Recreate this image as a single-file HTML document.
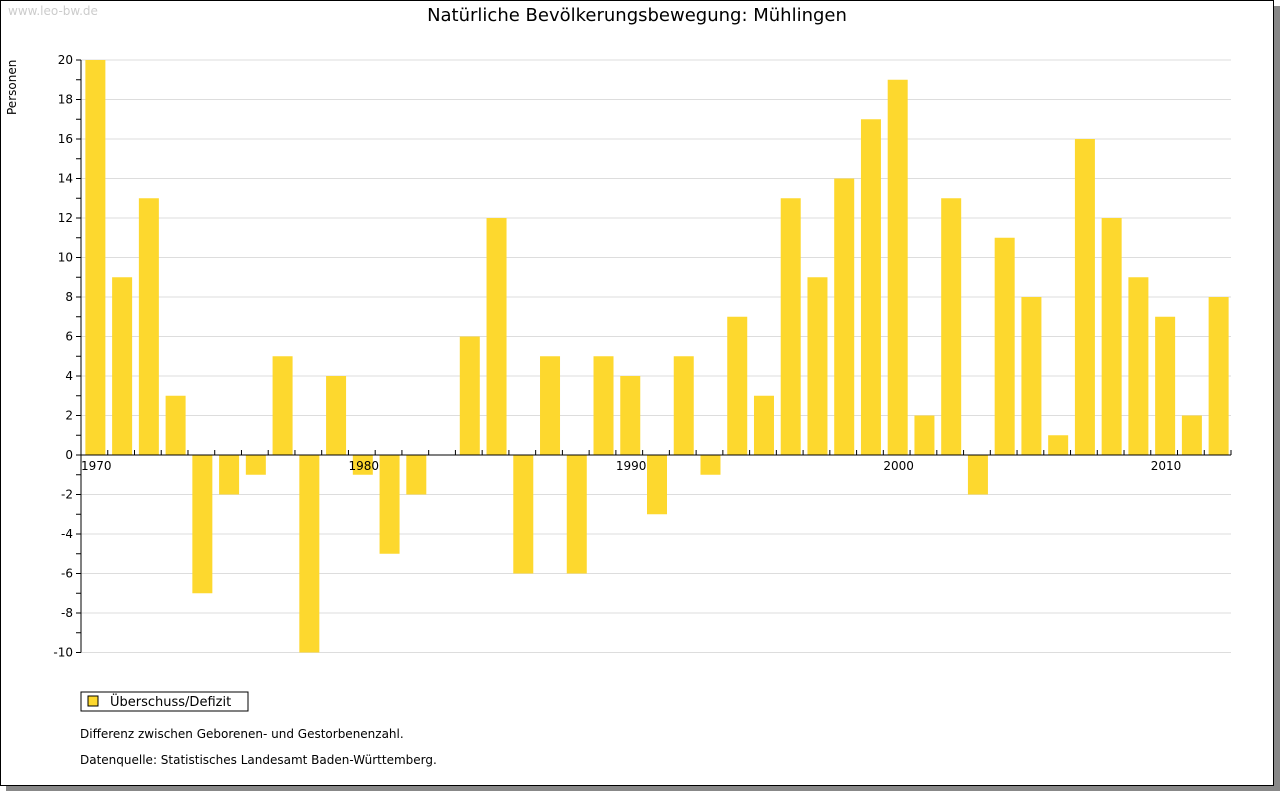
<!DOCTYPE html>
<html><head><meta charset="utf-8"><style>
body{margin:0;background:#fff;font-family:"DejaVu Sans","Liberation Sans",sans-serif;}
#frame{position:absolute;left:0;top:0;width:1272px;height:784px;border:1px solid #000;box-shadow:6px 6px 0 #888;background:#fff;}
</style></head><body>
<div id="frame"></div>
<svg width="1280" height="791" style="position:absolute;left:0;top:0" font-family="DejaVu Sans, Liberation Sans, sans-serif">
<text x="8" y="15" font-size="12" fill="#ccc">www.leo-bw.de</text>
<text x="637" y="21" font-size="18" text-anchor="middle">Natürliche Bevölkerungsbewegung: Mühlingen</text>
<text transform="translate(16,115) rotate(-90)" font-size="12">Personen</text>
<g id="grid"></g><g id="bars"></g><g id="axes"></g>
<rect x="81" y="692" width="167" height="19" fill="#fff" stroke="#000"/>
<rect x="88" y="696" width="10" height="10" fill="#fdd82e" stroke="#000"/>
<text x="110" y="706" font-size="13">Überschuss/Defizit</text>
<text x="80" y="738" font-size="12">Differenz zwischen Geborenen- und Gestorbenenzahl.</text>
<text x="80" y="764" font-size="12">Datenquelle: Statistisches Landesamt Baden-Württemberg.</text>
</svg>
<script>
const years=[1970,1971,1972,1973,1974,1975,1976,1977,1978,1979,1980,1981,1982,1983,1984,1985,1986,1987,1988,1989,1990,1991,1992,1993,1994,1995,1996,1997,1998,1999,2000,2001,2002,2003,2004,2005,2006,2007,2008,2009,2010,2011,2012];
const values=[20,9,13,3,-7,-2,-1,5,-10,4,-1,-5,-2,0,6,12,-6,5,-6,5,4,-3,5,-1,7,3,13,9,14,17,19,2,13,-2,11,8,1,16,12,9,7,2,8];
const yTicks=[-10,-8,-6,-4,-2,0,2,4,6,8,10,12,14,16,18,20];
const xLabels=[1970,1980,1990,2000,2010];
const NS='http://www.w3.org/2000/svg';
const X0=81,X1=1231,band=(X1-X0)/years.length;
const y=v=>455-(v*395/20);
function mk(t,a,p){const e=document.createElementNS(NS,t);for(const k in a)e.setAttribute(k,a[k]);document.getElementById(p).appendChild(e);return e;}
yTicks.forEach(v=>{
 if(v!==0){const g=mk('line',{x1:X0,x2:X1,y1:y(v),y2:y(v),stroke:'#ddd'},'grid');
 
 }
 const t=mk('text',{x:73,y:y(v)+4,'font-size':12,'text-anchor':'end'},'axes');t.textContent=v;
 
 
 mk('line',{x1:X0-5,x2:X0,y1:y(v),y2:y(v),stroke:'#000'},'axes');
 if(v<20)mk('line',{x1:X0-5,x2:X0,y1:y(v+1),y2:y(v+1),stroke:'#000'},'axes');
});
values.forEach((v,i)=>{
 const cx=X0+band*(i+0.5)+1;
 const r=mk('rect',{x:cx-10,y:Math.min(y(v),y(0)),width:20,height:Math.abs(y(v)-y(0)),fill:'#fdd82e'},'bars');
 
 
});
mk('line',{x1:X0,x2:X0,y1:y(20),y2:y(-10),stroke:'#000'},'axes');
mk('line',{x1:X0,x2:X1,y1:y(0),y2:y(0),stroke:'#000'},'axes');
for(let i=1;i<=years.length;i++){const x=X0+band*i;mk('line',{x1:x,x2:x,y1:y(0)-5,y2:y(0),stroke:'#000'},'axes');}
xLabels.forEach(yr=>{const i=years.indexOf(yr);
 const t=mk('text',{x:X0+band*i,y:470,'font-size':12},'axes');t.textContent=yr;
 
 });
</script>
</body></html>
